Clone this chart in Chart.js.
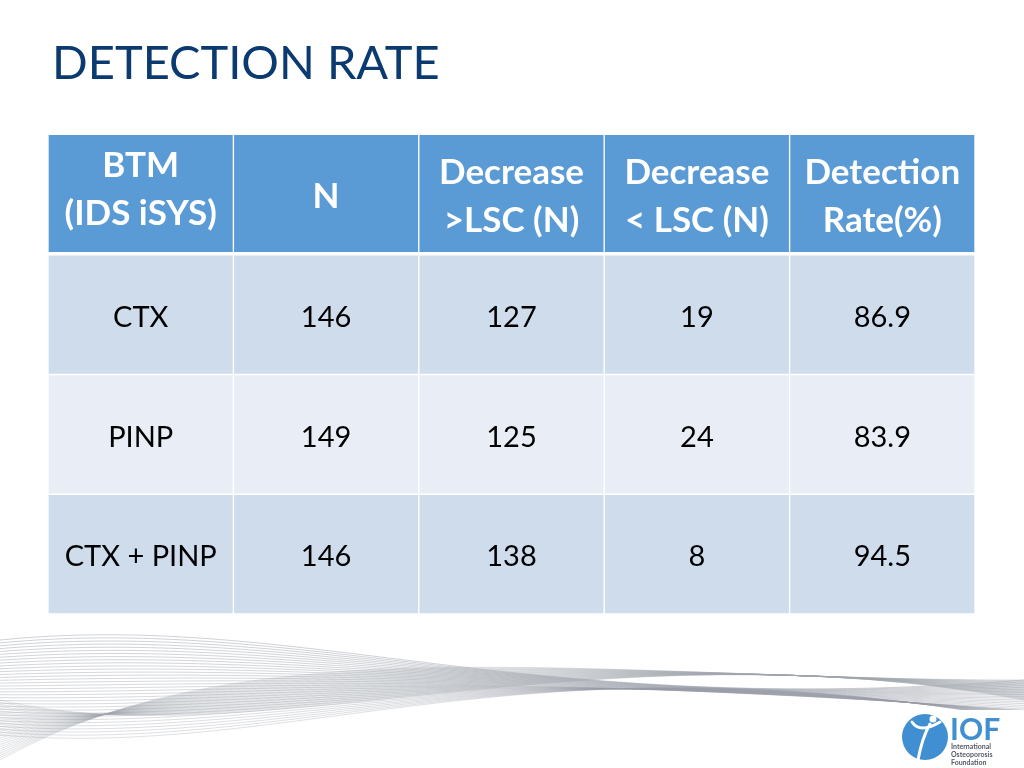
<!DOCTYPE html>
<html>
<head>
<meta charset="utf-8">
<script src="https://cdn.jsdelivr.net/npm/chart.js@4.4.1/dist/chart.umd.min.js"></script>
<style>
  html, body { margin: 0; padding: 0; background: #ffffff; }
  #wrap { position: relative; width: 1024px; height: 768px; overflow: hidden; }
  #title { position: absolute; left: 52px; top: 38px; margin: 0; font-family: Lato, sans-serif; font-weight: 400; font-size: 47px; color: #0A3A6F; letter-spacing: 0px; line-height: 1; }
  canvas { position: absolute; left: 0; top: 0; }
</style>
</head>
<body>
<div id="wrap">
  <canvas id="c" width="1024" height="768"></canvas>
  <h1 id="title">DETECTION RATE</h1>
</div>
<script>
// ---- table data ----
const columns = ["BTM\n(IDS iSYS)", "N", "Decrease\n>LSC (N)", "Decrease\n< LSC (N)", "Detection\nRate(%)"];
const markers = ["CTX", "PINP", "CTX + PINP"];
const nValues = [146, 149, 146];
const decreaseAbove = [127, 125, 138];
const decreaseBelow = [19, 24, 8];
const detectionRate = ["86.9", "83.9", "94.5"];

const rowColors = ["#5B9BD5", "#CFDCEC", "#E9EDF6", "#CFDCEC"];

const rowsText = markers.map((m, i) => [m, String(nValues[i]), String(decreaseAbove[i]), String(decreaseBelow[i]), detectionRate[i]]);

// one dataset per table row: floating bars spanning [r, r+1]
const datasets = [0, 1, 2, 3].map(r => ({
  label: r === 0 ? "header" : markers[r - 1],
  data: columns.map(() => [r, r + 1]),
  backgroundColor: rowColors[r],
  borderColor: "#ffffff",
  borderWidth: r === 0 ? { top: 0, left: 1, right: 1, bottom: 3 } : { top: 1, left: 1, right: 1, bottom: 1 },
  borderSkipped: false,
  grouped: false,
  barPercentage: 1,
  categoryPercentage: 1
}));

const decoPlugin = {
  id: "deco",
  beforeDraw(chart) {
    const ctx = chart.ctx;
    ctx.save();
    ctx.fillStyle = "#ffffff";
    ctx.fillRect(0, 0, chart.width, chart.height);
    // decorative wave bundle
    ctx.lineWidth = 0.7;
    for (let k = 0; k < 34; k++) {
      const t = k / 33;
      ctx.strokeStyle = "rgba(150,155,165," + (0.45 + 0.2 * (1 - t)) + ")";
      ctx.beginPath();
      ctx.moveTo(0, 640 + t * 95);
      ctx.bezierCurveTo(300, 610 + t * 150, 520, 720 - t * 90, 1024, 690 + t * 40 - 20 * Math.abs(t - 0.5));
      ctx.stroke();
    }
    for (let k = 0; k < 28; k++) {
      const t = k / 27;
      ctx.strokeStyle = "rgba(160,165,172,0.45)";
      ctx.beginPath();
      ctx.moveTo(0, 700 + t * 60);
      ctx.bezierCurveTo(250, 760 - t * 140, 600, 620 + t * 60, 1024, 700 - t * 20);
      ctx.stroke();
    }
    ctx.restore();
  },
  afterDraw(chart) {
    const ctx = chart.ctx;
    ctx.save();
    ctx.fillStyle = "#ffffff";
    ctx.fillRect(898, 710, 126, 58);
    // IOF logo
    ctx.fillStyle = "#3F8FD2";
    ctx.beginPath();
    ctx.arc(925, 737, 23, 0, Math.PI * 2);
    ctx.fill();
    ctx.strokeStyle = "#ffffff";
    ctx.lineWidth = 3;
    ctx.lineCap = "round";
    ctx.beginPath();
    ctx.moveTo(918, 760); ctx.quadraticCurveTo(922, 738, 930, 724);
    ctx.moveTo(912, 722); ctx.quadraticCurveTo(920, 734, 940, 722);
    ctx.stroke();
    ctx.fillStyle = "#ffffff";
    ctx.beginPath(); ctx.arc(933, 719, 3.5, 0, Math.PI * 2); ctx.fill();
    ctx.fillStyle = "#3F8FD2";
    ctx.font = "bold 30px Lato, sans-serif";
    ctx.textBaseline = "alphabetic";
    ctx.textAlign = "left";
    ctx.fillText("IOF", 950, 740);
    ctx.fillStyle = "#555b66";
    ctx.font = "bold 7px Lato, sans-serif";
    ctx.fillText("International", 951, 749);
    ctx.fillText("Osteoporosis", 951, 757);
    ctx.fillText("Foundation", 951, 765);
    ctx.restore();
  }
};

const textPlugin = {
  id: "cellText",
  afterDatasetsDraw(chart) {
    const ctx = chart.ctx;
    const xs = chart.scales.x, ys = chart.scales.y;
    ctx.save();
    ctx.textAlign = "center";
    ctx.textBaseline = "middle";
    // header
    ctx.fillStyle = "#ffffff";
    ctx.font = "bold 35px Lato, sans-serif";
    columns.forEach((label, c) => {
      const lines = label.split("\n");
      const cx = xs.getPixelForValue(c);
      const cy = ys.getPixelForValue(0.5) + (c === 0 ? -5 : 2);
      const lh = 48;
      lines.forEach((ln, i) => {
        ctx.fillText(ln, cx, cy + (i - (lines.length - 1) / 2) * lh);
      });
    });
    // body
    ctx.fillStyle = "#000000";
    ctx.font = "29px Lato, sans-serif";
    rowsText.forEach((row, r) => {
      const cy = ys.getPixelForValue(r + 1.5) + 3;
      row.forEach((txt, c) => {
        ctx.fillText(txt, xs.getPixelForValue(c), cy);
      });
    });
    ctx.restore();
  }
};

new Chart(document.getElementById("c"), {
  type: "bar",
  data: { labels: columns, datasets },
  options: {
    responsive: false,
    animation: false,
    layout: { padding: { left: 48, right: 49, top: 135, bottom: 154 } },
    plugins: { legend: { display: false }, tooltip: { enabled: false }, title: { display: false } },
    scales: {
      x: { type: "category", offset: true, display: false, grid: { display: false } },
      y: { type: "linear", min: 0, max: 4, reverse: true, display: false, grid: { display: false } }
    }
  },
  plugins: [decoPlugin, textPlugin]
});
</script>
</body>
</html>
